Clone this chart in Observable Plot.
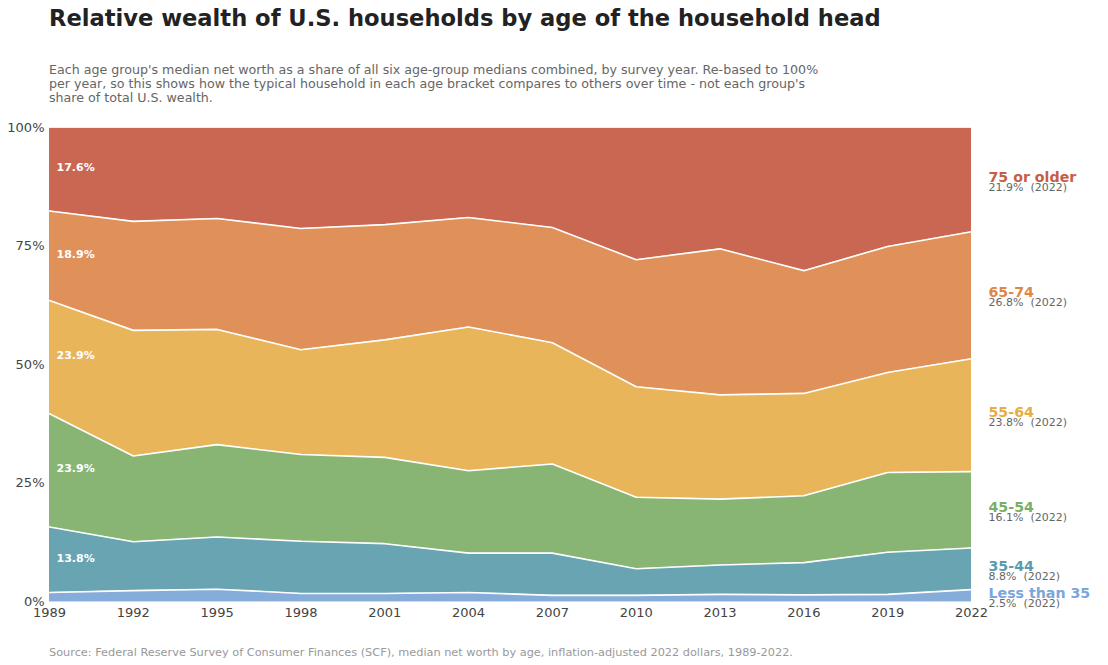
<!DOCTYPE html>
<html>
<head>
<meta charset="utf-8">
<script src="https://cdn.jsdelivr.net/npm/d3@7"></script>
<script src="https://cdn.jsdelivr.net/npm/@observablehq/plot@0.6"></script>
<style>
  html, body { margin: 0; padding: 0; background: #fff; }
  body { width: 1108px; height: 665px; position: relative; font-family: "DejaVu Sans", sans-serif; overflow: hidden; }
  #title { position: absolute; left: 49px; top: 5px; font-size: 22.6px; font-weight: bold; color: #222; line-height: 26px; white-space: nowrap; }
  #subtitle { position: absolute; left: 49px; top: 63px; font-size: 12.65px; color: #666; line-height: 14px; white-space: nowrap; }
  #chart { position: absolute; left: 0; top: 110px; }
  #caption { position: absolute; left: 49px; top: 646px; font-size: 11.3px; color: #999; line-height: 14px; white-space: nowrap; }
</style>
</head>
<body>
<div id="title">Relative wealth of U.S. households by age of the household head</div>
<div id="subtitle">Each age group's median net worth as a share of all six age-group medians combined, by survey year. Re-based to 100%<br>per year, so this shows how the typical household in each age bracket compares to others over time - not each group's<br>share of total U.S. wealth.</div>
<div id="chart"></div>
<div id="caption">Source: Federal Reserve Survey of Consumer Finances (SCF), median net worth by age, inflation-adjusted 2022 dollars, 1989-2022.</div>
<script>
const years = [1989, 1992, 1995, 1998, 2001, 2004, 2007, 2010, 2013, 2016, 2019, 2022];
const groups = ["Less than 35", "35-44", "45-54", "55-64", "65-74", "75 or older"];
const colors = ["#86acd9", "#68a4b1", "#89b574", "#e8b55a", "#e0915a", "#c96752"];
const labelColors = ["#7aa6dc", "#5b9bab", "#7aae63", "#e6ad45", "#df8748", "#c85d47"];

// share (%) of the six medians combined, per survey year
const under35 = [1.9, 2.3, 2.6, 1.7, 1.7, 1.9, 1.3, 1.3, 1.5, 1.4, 1.5, 2.5];
const age35_44 = [13.8, 10.3, 11.0, 11.0, 10.5, 8.3, 8.9, 5.6, 6.2, 6.8, 8.9, 8.8];
const age45_54 = [23.9, 18.1, 19.5, 18.3, 18.2, 17.4, 18.8, 15.1, 13.9, 14.1, 16.8, 16.1];
const age55_64 = [23.9, 26.5, 24.3, 22.1, 24.8, 30.3, 25.6, 23.3, 22.0, 21.6, 21.1, 23.8];
const age65_74 = [18.9, 23.0, 23.4, 25.6, 24.3, 23.1, 24.3, 26.8, 30.8, 25.9, 26.6, 26.8];
const age75plus = [17.6, 19.8, 19.2, 21.3, 20.5, 19.0, 21.1, 27.9, 25.6, 30.2, 25.1, 21.9];

const yTicks = [0, 25, 50, 75, 100];

const series = [under35, age35_44, age45_54, age55_64, age65_74, age75plus];
const data = [];
groups.forEach((g, gi) => {
  years.forEach((yr, i) => data.push({year: yr, group: g, value: series[gi][i]}));
});

const firstYear = years[0];
const lastYear = years[years.length - 1];
const startData = data.filter(d => d.year === firstYear);
const endData = data.filter(d => d.year === lastYear);

const fmt = v => v.toFixed(1) + "%";

const chart = Plot.plot({
  width: 1108,
  height: 520,
  marginTop: 17,
  marginBottom: 29,
  marginLeft: 49,
  marginRight: 137,
  style: {fontFamily: "DejaVu Sans, sans-serif", fontSize: "13px", color: "#444", background: "transparent", overflow: "visible"},
  x: {domain: [firstYear, lastYear], label: null},
  y: {domain: [0, 100], label: null},
  color: {domain: groups, range: colors},
  marks: [
    Plot.areaY(data, Plot.stackY({x: "year", y: "value", z: "group", order: groups, fill: "group", curve: "linear"})),
    Plot.lineY(data.filter(d => d.group !== groups[groups.length - 1]), Plot.stackY2({x: "year", y: "value", z: "group", order: groups, stroke: "white", strokeWidth: 1.6})),
    Plot.ruleY([0], {stroke: "#d8d8d8", strokeWidth: 1}),
    Plot.ruleY([100], {stroke: "#eeeeee", strokeWidth: 1}),
    Plot.axisX({ticks: years, tickFormat: d => String(d), tickSize: 0, tickPadding: 6, fontSize: 13, fill: "#444"}),
    Plot.axisY({ticks: yTicks, tickFormat: d => d + "%", tickSize: 0, tickPadding: 5, fontSize: 13, fill: "#444"}),
    Plot.text(startData, Plot.stackY({
      x: "year", y: "value", z: "group", order: groups,
      text: d => d.group === groups[0] ? "" : fmt(d.value),
      textAnchor: "start", dx: 7, dy: -1.5, fill: "white", fontWeight: "bold", fontSize: 11
    })),
    Plot.text(endData, Plot.stackY({
      x: "year", y: "value", z: "group", order: groups,
      text: "group", textAnchor: "start", dx: 17, dy: -2.5,
      fill: d => labelColors[groups.indexOf(d.group)], fontWeight: "bold", fontSize: 14.2
    })),
    Plot.text(endData, Plot.stackY({
      x: "year", y: "value", z: "group", order: groups,
      text: d => fmt(d.value) + "\u00a0 (" + d.year + ")", textAnchor: "start", dx: 17, dy: 7.5,
      fill: "#666", fontSize: 11
    }))
  ]
});
document.getElementById("chart").appendChild(chart);
</script>
</body>
</html>
